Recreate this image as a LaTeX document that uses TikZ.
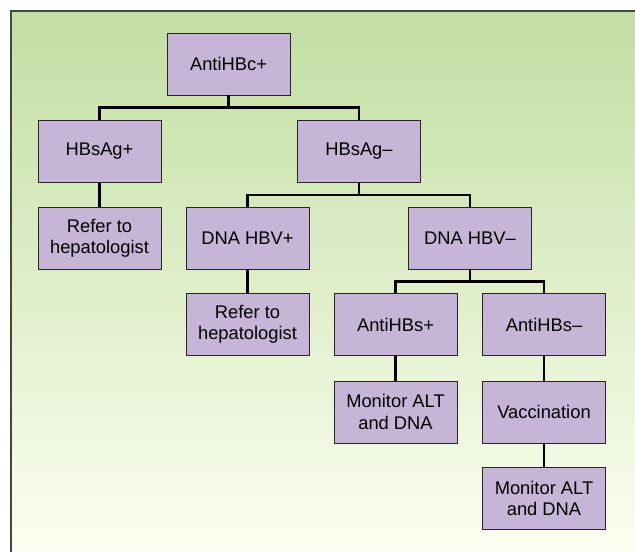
\documentclass[tikz,border=0pt]{standalone}
\usepackage{fontspec}
\setmainfont{Liberation Sans}
\definecolor{boxfill}{RGB}{198,181,214}
\definecolor{bgtop}{RGB}{194,222,162}
\definecolor{bgbot}{RGB}{252,254,241}
\definecolor{frame}{RGB}{66,72,62}
\tikzset{
  box/.style={draw=black!85, line width=0.9bp, fill=boxfill, rectangle,
    minimum width=123bp, minimum height=62bp, inner sep=2bp, align=center,
    font=\fontsize{18.4}{21.5}\selectfont},
  conn/.style={draw=black, line width=2.2bp}
}
\begin{document}
\begin{tikzpicture}[x=1bp,y=-1bp]
\useasboundingbox (0,0) rectangle (635,552);
\fill[white] (0,0) rectangle (635,552);
\shade[top color=bgtop, bottom color=bgbot] (11,11) rectangle (635,552);
\draw[frame, line width=2.4bp] (11,552) -- (11,11) -- (635,11);

\node[box] (a) at (228.5,64) {AntiHBc+};
\node[box] (b1) at (99.5,151.5) {HBsAg+};
\node[box] (b2) at (359,151.5) {HBsAg–};
\node[box] (c1) at (99.5,238) {Refer to\\hepatologist};
\node[box] (c2) at (247.5,238) {DNA HBV+};
\node[box] (c3) at (470,238) {DNA HBV–};
\node[box] (d1) at (247.5,324.5) {Refer to\\hepatologist};
\node[box] (d2) at (395.5,324.5) {AntiHBs+};
\node[box] (d3) at (544,324.5) {AntiHBs–};
\node[box] (e1) at (395.5,412) {Monitor ALT\\and DNA};
\node[box] (e2) at (544,412) {Vaccination};
\node[box] (f1) at (544,498.5) {Monitor ALT\\and DNA};

\draw[conn] (a.south) -- ++(0,12) -| (b1.north);
\draw[conn] (a.south) -- ++(0,12) -| (b2.north);
\draw[conn] (b1.south) -- (c1.north);
\draw[conn] (b2.south) -- ++(0,12) -| (c2.north);
\draw[conn] (b2.south) -- ++(0,12) -| (c3.north);
\draw[conn] (c2.south) -- (d1.north);
\draw[conn] (c3.south) -- ++(0,12) -| (d2.north);
\draw[conn] (c3.south) -- ++(0,12) -| (d3.north);
\draw[conn] (d2.south) -- (e1.north);
\draw[conn] (d3.south) -- (e2.north);
\draw[conn] (e2.south) -- (f1.north);
\end{tikzpicture}
\end{document}
